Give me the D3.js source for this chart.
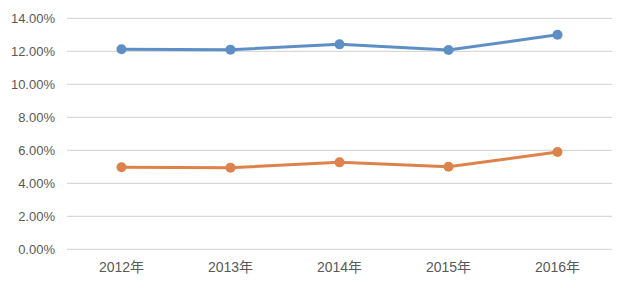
<!DOCTYPE html>
<html lang="zh">
<head>
  <meta charset="UTF-8">
  <title>2012-2016年 折线图</title>
  <script src="https://d3js.org/d3.v7.min.js"></script>
  <style>
    body { margin: 0; background: #ffffff; overflow: hidden; }
    .tick text { font: 13px "Liberation Sans", "Noto Sans CJK SC", sans-serif; fill: #595959; }
    .x-axis .tick text { font-size: 14px; }
    .grid line { stroke: #d9d9d9; stroke-width: 1.3px; }
    .line { fill: none; stroke-width: 3px; }
  </style>
</head>
<body>
  <svg id="chart" width="620" height="288"></svg>
  <script>
    const years = ["2012年", "2013年", "2014年", "2015年", "2016年"];
    const seriesA = [12.12, 12.10, 12.42, 12.08, 13.00];
    const seriesB = [4.97, 4.95, 5.27, 5.00, 5.90];
    const yTicks = [0, 2, 4, 6, 8, 10, 12, 14];

    const svg = d3.select("#chart");
    const plotLeft = 67, plotRight = 612, plotTop = 18.3, plotBottom = 249.3;

    const x = d3.scaleBand().domain(years).range([plotLeft, plotRight]);
    const y = d3.scaleLinear().domain([0, 14]).range([plotBottom, plotTop]);

    // horizontal gridlines
    svg.append("g")
       .attr("class", "grid")
       .selectAll("line")
       .data(yTicks)
       .enter()
       .append("line")
       .attr("x1", plotLeft)
       .attr("x2", plotRight)
       .attr("y1", d => y(d))
       .attr("y2", d => y(d));

    const yAxis = svg.append("g")
       .attr("transform", `translate(${plotLeft - 10},0)`)
       .call(d3.axisLeft(y).tickValues(yTicks).tickSize(0).tickPadding(2)
               .tickFormat(d => d.toFixed(2) + "%"));
    yAxis.select(".domain").remove();

    const xAxis = svg.append("g")
       .attr("class", "x-axis")
       .attr("transform", `translate(0,${plotBottom + 11})`)
       .call(d3.axisBottom(x).tickSize(0).tickPadding(2));
    xAxis.select(".domain").remove();

    const line = d3.line()
                   .x((d, i) => x(years[i]) + x.bandwidth() / 2)
                   .y(d => y(d));

    const series = [
      { values: seriesA, color: "#5d8fc6" },
      { values: seriesB, color: "#de824b" }
    ];

    series.forEach(s => {
      svg.append("path")
         .datum(s.values)
         .attr("class", "line")
         .attr("stroke", s.color)
         .attr("d", line);

      svg.selectAll(null)
         .data(s.values)
         .enter()
         .append("circle")
         .attr("cx", (d, i) => x(years[i]) + x.bandwidth() / 2)
         .attr("cy", d => y(d))
         .attr("r", 5)
         .attr("fill", s.color);
    });
  </script>
</body>
</html>
